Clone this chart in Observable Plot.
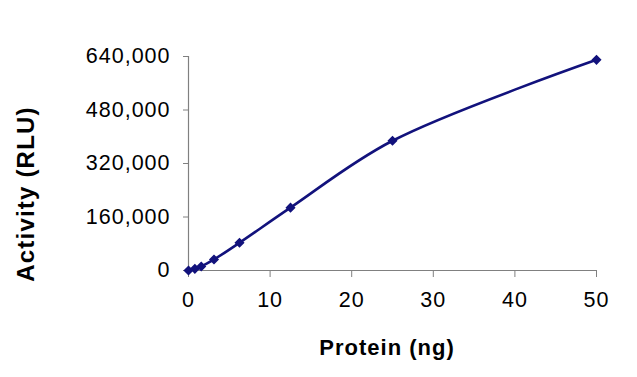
<!DOCTYPE html>
<html>
<head>
<meta charset="utf-8">
<script src="https://cdn.jsdelivr.net/npm/d3@7"></script>
<script src="https://cdn.jsdelivr.net/npm/@observablehq/plot@0.6"></script>
<style>
  html, body { margin: 0; padding: 0; background: #fff; }
  #chart { position: relative; width: 637px; height: 377px; }
  .ytitle { position: absolute; left: 26px; top: 194px; transform: translate(-50%, -50%) rotate(-90deg);
    font: bold 24px "Liberation Sans", Arial, sans-serif; letter-spacing: 1.2px; white-space: nowrap; color: #000; }
  .xtitle { position: absolute; left: 387px; top: 348px; transform: translate(-50%, -50%);
    font: bold 22px "Liberation Sans", Arial, sans-serif; letter-spacing: 1px; white-space: nowrap; color: #000; }
  svg text { letter-spacing: 1px; }
</style>
</head>
<body>
<div id="chart"></div>
<script>
const protein = [0, 0.78, 1.56, 3.125, 6.25, 12.5, 25, 50];
const activity = [0, 5000, 12000, 33000, 83000, 188000, 388000, 630000];
const xTicks = [0, 10, 20, 30, 40, 50];
const yTicks = [0, 160000, 320000, 480000, 640000];

const data = protein.map((p, i) => ({p, a: activity[i]}));
const fmt = d3.format(",");

const plot = Plot.plot({
  width: 637,
  height: 377,
  marginLeft: 188,
  marginRight: 41,
  marginTop: 56,
  marginBottom: 107,
  style: {fontFamily: "'Liberation Sans', Arial, sans-serif", fontSize: "21.5px", color: "#000", background: "#fff"},
  x: {domain: [0, 50]},
  y: {domain: [0, 640000]},
  marks: [
    Plot.ruleX([0], {stroke: "#808080", strokeWidth: 1.2}),
    Plot.ruleY([0], {stroke: "#808080", strokeWidth: 1.2}),
    Plot.axisY({ticks: yTicks, tickFormat: fmt, tickSize: 5, tickPadding: 13, stroke: "#808080", fill: "#000", label: null}),
    Plot.axisX({ticks: xTicks, tickSize: 7, tickPadding: 14, stroke: "#808080", fill: "#000", label: null}),
    Plot.line(data, {x: "p", y: "a", curve: "catmull-rom", stroke: "#12127c", strokeWidth: 2.6}),
    Plot.dot(data, {x: "p", y: "a", symbol: "diamond2", r: 3.6, fill: "#12127c", stroke: "#12127c"})
  ]
});
const div = document.getElementById("chart");
div.appendChild(plot);
const yt = document.createElement("div"); yt.className = "ytitle"; yt.textContent = "Activity (RLU)"; div.appendChild(yt);
const xt = document.createElement("div"); xt.className = "xtitle"; xt.textContent = "Protein (ng)"; div.appendChild(xt);
</script>
</body>
</html>
